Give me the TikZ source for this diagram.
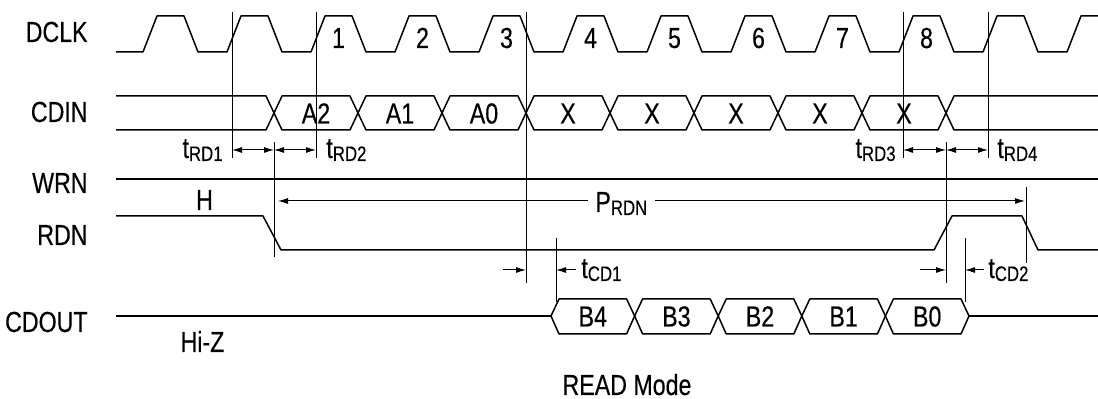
\documentclass[tikz,border=0pt]{standalone}
\usepackage{fontspec}
\setmainfont{Liberation Sans}[FakeStretch=0.8,FakeBold=0.3]
\usetikzlibrary{arrows.meta}
\tikzstyle{sig} = [line width=0.75pt, line join=round]
\tikzstyle{guide} = [line width=0.5pt]
\tikzstyle{dim} = [line width=0.5pt, {Latex[length=5pt,width=3pt]}-{Latex[length=5pt,width=3pt]}]
\tikzstyle{onedim} = [line width=0.5pt, -{Latex[length=5pt,width=3pt]}]
\tikzstyle{lbl} = [font=\fontsize{14.5}{16}\selectfont, inner sep=0pt]
\tikzstyle{signame} = [lbl, anchor=base east]
\newcommand{\lowsub}[2]{#1\raisebox{-1.5pt}{\fontsize{10.5}{12}\selectfont #2}}

\begin{document}
\begin{tikzpicture}[x=0.5pt,y=-0.5pt]
	\useasboundingbox (0,0) rectangle (1098,399);
	% signal names
	\node (ndclk) at (88,42) [signame] {DCLK};
	\node (ncdin) at (88,122) [signame] {CDIN};
	\node (nwrn) at (88,193) [signame] {WRN};
	\node (nrdn) at (88,245) [signame] {RDN};
	\node (ncdout) at (88,332) [signame] {CDOUT};
	% DCLK
	\draw[sig] (116,52) \foreach \k in {0,...,10} { -- ({143+84*\k},52) -- ({157+84*\k},16) -- ({184+84*\k},16) -- ({198+84*\k},52) } -- (1067,52) -- (1081,16) -- (1098,16);
	\foreach \n in {1,...,8}
		\node (clk\n) at ({338.5+84*(\n-1)},48) [lbl, anchor=base] {\n};
	% CDIN
	\draw[sig] (116,96) -- (266,96) -- (274,113) -- (266,130) -- (116,130);
	\foreach \j in {0,...,7}
		\draw[sig] ({274+84*\j},113) -- ({282+84*\j},96) -- ({350+84*\j},96) -- ({358+84*\j},113) -- ({350+84*\j},130) -- ({282+84*\j},130) -- cycle;
	\draw[sig] (1098,96) -- (954,96) -- (946,113) -- (954,130) -- (1098,130);
	\foreach \t [count=\j from 0] in {A2,A1,A0,X,X,X,X,X}
		\node (din\j) at ({316+84*\j},123.5) [lbl, anchor=base] {\t};
	% WRN and RDN
	\draw[sig] (116,179) -- (1098,179);
	\draw[sig] (116,216) -- (263,216) -- (281,250) -- (934,250) -- (952,216) -- (1022,216) -- (1038,250) -- (1098,250);
	\node (h) at (204.5,210) [lbl, anchor=base] {H};
	% CDOUT
	\draw[sig] (116,316) -- (551,316);
	\foreach \j in {0,...,4}
		\draw[sig] ({551+83.6*\j},316) -- ({559+83.6*\j},299) -- ({626.6+83.6*\j},299) -- ({634.6+83.6*\j},316) -- ({626.6+83.6*\j},334) -- ({559+83.6*\j},334) -- cycle;
	\draw[sig] (969,316) -- (1098,316);
	\foreach \t [count=\j from 0] in {B4,B3,B2,B1,B0}
		\node (dout\j) at ({592.8+83.6*\j},326.5) [lbl, anchor=base] {\t};
	\node (hiz) at (202.5,352) [lbl, anchor=base] {Hi-Z};
	% guide lines
	\draw[guide] (232,12) -- (232,158);
	\draw[guide] (316,12) -- (316,158);
	\draw[guide] (903,12) -- (903,158);
	\draw[guide] (988,12) -- (988,158);
	\draw[guide] (526,12) -- (526,283);
	\draw[guide] (274,142) -- (274,257);
	\draw[guide] (946,142) -- (946,283);
	\draw[guide] (556,238) -- (556,302);
	\draw[guide] (965,238) -- (965,302);
	\draw[guide] (1026,187) -- (1026,263);
	% tRD
	\coordinate (rda) at (232,150);
	\coordinate (rdb) at (274,150);
	\coordinate (rdc) at (316,150);
	\coordinate (rdd) at (903,150);
	\coordinate (rde) at (946,150);
	\coordinate (rdf) at (988,150);
	\draw[dim] (rda) -- (rdb);
	\draw[dim] (rdb) -- (rdc);
	\draw[dim] (rdd) -- (rde);
	\draw[dim] (rde) -- (rdf);
	\node (trd1) at (223,158) [lbl, anchor=base east] {\lowsub{t}{RD1}};
	\node (trd2) at (326,158) [lbl, anchor=base west] {\lowsub{t}{RD2}};
	\node (trd3) at (896,158) [lbl, anchor=base east] {\lowsub{t}{RD3}};
	\node (trd4) at (997,158) [lbl, anchor=base west] {\lowsub{t}{RD4}};
	% PRDN
	\node (prdn) at (595,212) [lbl, anchor=base west] {\lowsub{P}{RDN}};
	\coordinate (pa) at (278,201);
	\coordinate (pl) at (588,201);
	\coordinate (pr) at (655,201);
	\coordinate (pb) at (1025,201);
	\draw[onedim] (pl) -- (pa);
	\draw[onedim] (pr) -- (pb);
	% tCD
	\coordinate (cda) at (503,270);
	\coordinate (cdb) at (526,270);
	\coordinate (cdc) at (556,270);
	\coordinate (cdd) at (576,270);
	\coordinate (cde) at (920,270);
	\coordinate (cdf) at (946,270);
	\coordinate (cdg) at (965,270);
	\coordinate (cdh) at (984,270);
	\draw[onedim] (cda) -- (cdb);
	\draw[onedim] (cdd) -- (cdc);
	\draw[onedim] (cde) -- (cdf);
	\draw[onedim] (cdh) -- (cdg);
	\node (tcd1) at (581,278) [lbl, anchor=base west] {\lowsub{t}{CD1}};
	\node (tcd2) at (988,278) [lbl, anchor=base west] {\lowsub{t}{CD2}};
	% title
	\node (mode) at (627,395) [lbl, anchor=base] {READ Mode};
\end{tikzpicture}
\end{document}
